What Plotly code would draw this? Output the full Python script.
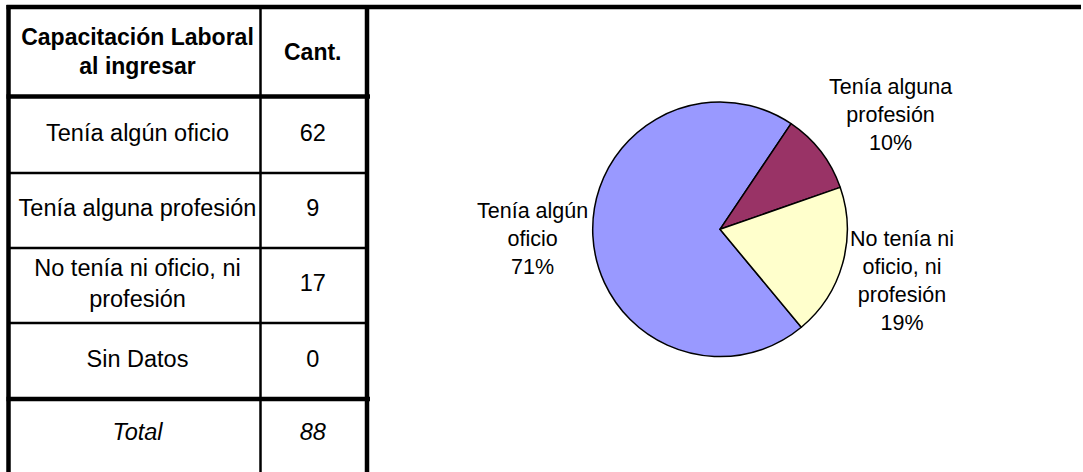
import plotly.graph_objects as go

# ---------------- data ----------------
header = ["Capacitación Laboral<br>al ingresar", "Cant."]
categories = ["Tenía algún oficio", "Tenía alguna profesión",
              "No tenía ni oficio, ni<br>profesión", "Sin Datos"]
counts = [62, 9, 17, 0]
total_label = "Total"
total_value = 88

pie_labels = ["Tenía algún<br>oficio", "Tenía alguna<br>profesión",
              "No tenía ni<br>oficio, ni<br>profesión"]
pie_values = [62, 9, 17]
pie_colors = ["#9999FF", "#993366", "#FFFFCC"]


def rounded_pcts(vals):
    tot = sum(vals)
    raw = [v * 100 / tot for v in vals]
    fl = [int(r) for r in raw]
    rem = 100 - sum(fl)
    order = sorted(range(len(vals)), key=lambda i: raw[i] - fl[i], reverse=True)
    for i in order[:rem]:
        fl[i] += 1
    return fl


pcts = rounded_pcts(pie_values)

# ---------------- layout geometry (pixels) ----------------
W, H = 1083, 472
col_x = [8.5, 260.5, 367]
row_y = [7, 96.5, 173, 248, 323, 399, 472]
FONT = "Arial, 'Liberation Sans', sans-serif"

fig = go.Figure()

# table text
cx = [(col_x[0] + col_x[1]) / 2 + 3, (col_x[1] + col_x[2]) / 2 - 1]
ry = [(row_y[i] + row_y[i + 1]) / 2 for i in range(len(row_y) - 1)]
ry[0] += 2
ry[-1] = 434

fig.add_trace(go.Scatter(
    x=cx, y=[ry[0], ry[0]], mode="text",
    text=["<b>" + h + "</b>" for h in header],
    textfont=dict(family=FONT, size=23, color="black"),
    textposition="middle center", hoverinfo="skip", showlegend=False))
fig.add_trace(go.Scatter(
    x=[cx[0]] * len(categories) + [cx[1]] * len(counts),
    y=ry[1:1 + len(categories)] * 2,
    mode="text",
    text=categories + [str(c) for c in counts],
    textfont=dict(family=FONT, size=23.5, color="black"),
    textposition="middle center", hoverinfo="skip", showlegend=False))
fig.add_trace(go.Scatter(
    x=cx, y=[ry[-1], ry[-1]], mode="text",
    text=["<i>" + total_label + "</i>", "<i>" + str(total_value) + "</i>"],
    textfont=dict(family=FONT, size=23.5, color="black"),
    textposition="middle center", hoverinfo="skip", showlegend=False))

# table lines
thick, thin = 4.5, 2.5
shapes = []
def line(x0, y0, x1, y1, w):
    shapes.append(dict(type="line", xref="x", yref="y", x0=x0, y0=y0, x1=x1, y1=y1,
                       line=dict(color="black", width=w)))

line(6.5, row_y[0], 1081, row_y[0], thick)
line(col_x[0], 5, col_x[0], H, thick)
line(col_x[2], 5, col_x[2], H, thick)
line(col_x[1], row_y[0], col_x[1], H, thin)
line(6.5, row_y[1], 370, row_y[1], thick)
for yy in row_y[2:5]:
    line(col_x[0], yy, col_x[2], yy, thin)
line(6.5, row_y[5], 370, row_y[5], thick)

# pie
cx_p, cy_p, r_p = 720, 229.3, 127.3
fig.add_trace(go.Pie(
    labels=[l.replace("<br>", " ") for l in pie_labels],
    values=pie_values,
    textinfo="none",
    marker=dict(colors=pie_colors, line=dict(color="black", width=1.5)),
    sort=False, direction="clockwise", rotation=140.3,
    automargin=False, showlegend=False, hoverinfo="skip",
    domain=dict(x=[(cx_p - r_p) / W, (cx_p + r_p) / W],
                y=[1 - (cy_p + r_p) / H, 1 - (cy_p - r_p) / H]),
))

# pie data labels
label_pos = [(532, 239), (890, 114.5), (902, 281)]
annotations = []
for lab, p, (lx, ly) in zip(pie_labels, pcts, label_pos):
    annotations.append(dict(
        x=lx, y=ly, xref="x", yref="y", text=f"{lab}<br>{p}%",
        showarrow=False, align="center", xanchor="center", yanchor="middle",
        font=dict(family=FONT, size=21.5, color="black")))

fig.update_layout(
    width=W, height=H,
    margin=dict(l=0, r=0, t=0, b=0),
    paper_bgcolor="white", plot_bgcolor="white",
    xaxis=dict(range=[0, W], visible=False, fixedrange=True),
    yaxis=dict(range=[H, 0], visible=False, fixedrange=True),
    shapes=shapes,
    annotations=annotations,
    hovermode=False,
)

fig.write_html("out.html", config={"displayModeBar": False},
               post_script="document.body.style.margin='0';")
